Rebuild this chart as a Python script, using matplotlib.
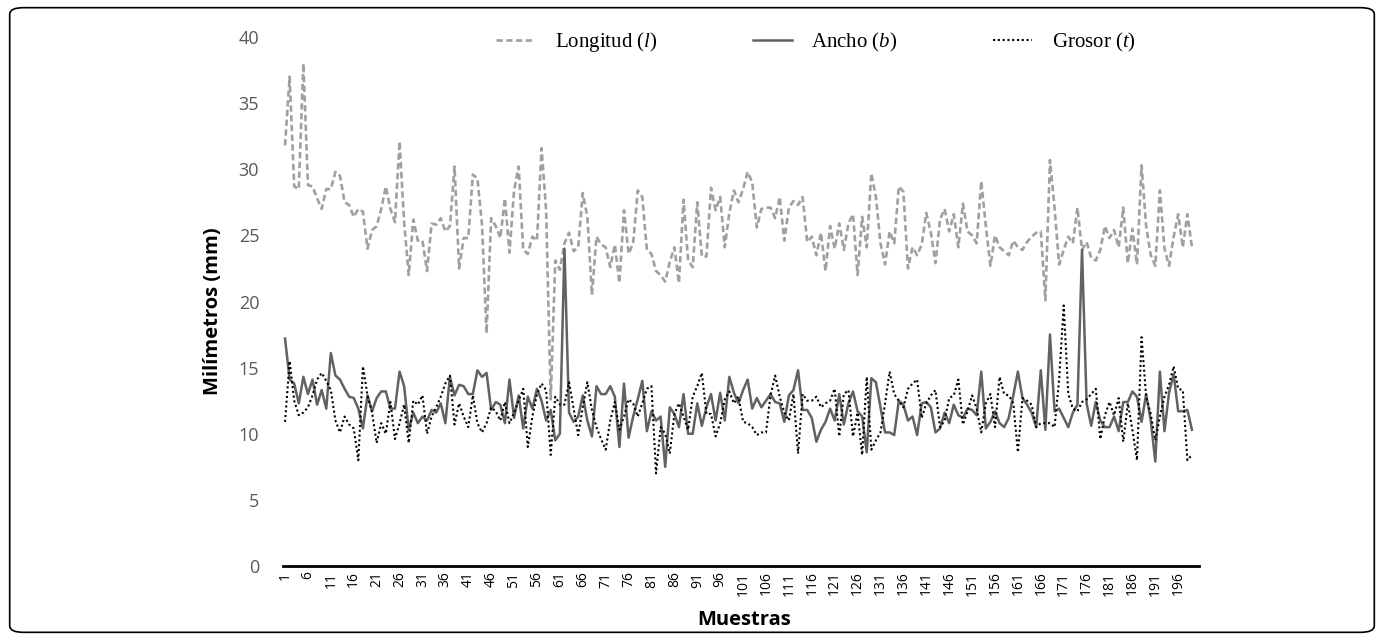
import numpy as np
import matplotlib.pyplot as plt
from matplotlib.patches import FancyBboxPatch

# valores (mm), muestras 1..199
longitud = [31.8, 37.0, 28.7, 28.5, 38.0, 28.8, 28.7, 27.8, 27.0, 28.5,
            28.5, 29.8, 29.5, 27.5, 27.3, 26.4, 27.0, 26.8, 24.0, 25.4,
            25.7, 27.0, 28.7, 27.0, 26.0, 32.1, 26.0, 22.0, 26.2, 24.6,
            24.6, 22.3, 25.9, 25.8, 26.3, 25.3, 25.7, 30.2, 22.5, 24.8,
            24.8, 29.6, 29.3, 25.8, 17.6, 26.3, 25.7, 24.8, 27.8, 23.7,
            28.4, 30.2, 23.9, 23.6, 24.9, 24.6, 31.6, 26.9, 12.6, 23.1,
            22.4, 24.4, 25.2, 23.8, 24.1, 28.2, 26.4, 20.5, 24.9, 24.3,
            24.1, 22.6, 24.3, 21.4, 26.9, 23.6, 24.4, 28.4, 27.9, 23.9,
            23.6, 22.3, 22.0, 21.5, 23.0, 24.1, 21.4, 27.7, 23.1, 22.6,
            27.5, 23.4, 23.4, 28.6, 26.9, 27.9, 24.1, 26.7, 28.4, 27.5,
            28.5, 29.8, 29.0, 25.6, 27.0, 27.1, 27.1, 26.3, 27.9, 24.6,
            27.1, 27.6, 27.3, 27.9, 24.5, 24.9, 23.5, 25.2, 22.3, 25.7,
            24.0, 25.9, 23.9, 25.9, 26.6, 22.0, 26.4, 24.1, 29.7, 27.9,
            24.4, 22.8, 25.3, 24.4, 28.7, 28.3, 22.5, 24.1, 23.5, 24.3,
            26.7, 25.2, 22.9, 26.2, 27.0, 25.3, 26.6, 24.1, 27.4, 25.3,
            25.0, 24.4, 29.1, 25.7, 22.7, 25.0, 24.1, 23.8, 23.5, 24.6,
            24.1, 23.9, 24.5, 24.9, 25.2, 25.3, 20.1, 30.7, 27.1, 22.8,
            23.9, 24.9, 24.4, 27.1, 23.9, 24.5, 23.3, 23.1, 23.9, 25.7,
            24.8, 25.4, 24.1, 27.1, 22.9, 25.5, 22.8, 30.3, 25.7, 23.5,
            22.7, 28.4, 24.0, 22.7, 24.9, 26.6, 24.1, 26.6, 24.1]

ancho = [17.2, 14.1, 13.8, 12.3, 14.3, 13.0, 14.1, 12.2, 13.3, 11.9,
         16.1, 14.4, 14.1, 13.4, 12.8, 12.7, 11.9, 10.4, 12.9, 11.7,
         12.7, 13.2, 13.2, 11.9, 11.9, 14.7, 13.6, 10.3, 11.6, 10.8,
         11.3, 11.0, 11.8, 11.6, 12.3, 10.8, 14.3, 12.9, 13.7, 13.6,
         13.0, 13.0, 14.8, 14.3, 14.6, 11.8, 12.4, 12.2, 10.8, 14.1,
         11.2, 12.9, 10.4, 12.8, 11.9, 13.4, 12.5, 11.0, 11.8, 9.5,
         10.0, 24.0, 11.6, 10.9, 11.3, 12.9, 11.0, 9.8, 13.6, 13.0,
         13.0, 13.6, 12.8, 9.0, 13.8, 9.7, 11.3, 12.6, 14.0, 10.2,
         11.7, 11.0, 11.3, 7.5, 12.0, 11.5, 10.5, 13.0, 10.0, 10.0,
         12.3, 10.6, 12.0, 13.0, 11.0, 13.1, 11.0, 14.3, 13.1, 12.3,
         13.3, 14.1, 11.9, 12.7, 12.0, 12.5, 13.0, 12.4, 12.3, 10.9,
         12.9, 13.3, 14.8, 11.8, 11.8, 11.2, 9.4, 10.3, 10.9, 11.9,
         11.0, 13.0, 10.7, 12.3, 13.2, 11.7, 11.3, 8.6, 14.2, 13.9,
         12.0, 10.1, 10.1, 9.9, 12.5, 12.2, 11.0, 11.3, 9.9, 12.3,
         12.4, 12.0, 10.1, 10.4, 11.6, 10.8, 12.2, 11.4, 11.2, 11.9,
         11.8, 11.4, 14.7, 10.4, 10.9, 11.7, 10.8, 10.5, 11.2, 12.9,
         14.7, 12.7, 12.2, 11.6, 10.5, 14.8, 10.3, 17.5, 11.7, 11.9,
         11.2, 10.5, 11.6, 12.2, 23.9, 12.3, 10.6, 12.4, 11.0, 10.5,
         10.5, 11.3, 10.2, 12.4, 12.4, 13.2, 12.8, 10.9, 13.0, 11.0,
         7.9, 14.7, 10.2, 13.1, 14.5, 11.7, 11.7, 11.8, 10.3]

grosor = [10.9, 15.5, 12.5, 11.4, 11.6, 12.0, 12.9, 14.1, 14.6, 14.0,
          13.3, 11.0, 10.1, 11.3, 10.7, 10.4, 8.0, 15.1, 12.9, 11.6,
          9.3, 10.8, 10.0, 12.4, 9.6, 10.8, 12.2, 9.3, 12.5, 12.2,
          12.9, 10.0, 11.3, 12.0, 12.8, 13.8, 14.4, 10.7, 12.3, 11.3,
          10.5, 12.9, 10.8, 10.1, 10.8, 12.0, 11.7, 11.0, 12.4, 10.8,
          11.6, 12.5, 13.4, 9.0, 11.3, 13.0, 13.8, 13.3, 8.4, 12.8,
          12.2, 12.2, 13.9, 11.9, 9.9, 12.0, 13.9, 11.8, 10.5, 9.6,
          8.8, 11.0, 12.4, 10.3, 11.3, 12.6, 12.3, 11.3, 12.3, 13.4,
          13.6, 7.0, 10.5, 10.0, 8.5, 11.5, 12.3, 11.3, 10.3, 12.8,
          13.6, 14.6, 11.5, 11.5, 9.8, 10.8, 12.6, 13.2, 12.3, 12.8,
          10.9, 10.8, 10.5, 9.9, 10.1, 10.1, 12.9, 14.4, 12.8, 11.6,
          11.0, 13.0, 8.5, 13.0, 12.5, 12.5, 12.8, 12.0, 12.3, 12.5,
          13.4, 9.8, 13.0, 13.3, 9.8, 11.6, 8.4, 14.3, 8.8, 9.5,
          10.1, 12.3, 14.7, 13.0, 12.5, 12.0, 13.4, 13.8, 14.1, 11.2,
          12.3, 12.9, 13.3, 10.5, 11.0, 12.7, 12.9, 14.1, 10.7, 11.7,
          12.9, 11.9, 10.1, 12.3, 13.0, 10.5, 14.3, 13.0, 12.9, 12.3,
          8.6, 12.7, 12.5, 12.2, 10.5, 10.8, 10.8, 10.8, 10.5, 14.1,
          19.7, 13.0, 11.9, 11.7, 12.4, 12.6, 13.0, 13.4, 9.6, 11.4,
          12.4, 11.4, 12.7, 9.4, 12.3, 10.3, 8.0, 17.3, 12.8, 11.5,
          9.5, 11.3, 12.8, 13.7, 15.1, 13.4, 13.3, 8.0, 8.4]

muestras = np.arange(1, len(longitud) + 1)
tick_muestras = np.arange(1, 200, 5)

plt.rcParams['mathtext.fontset'] = 'custom'
plt.rcParams['mathtext.rm'] = 'Liberation Serif'
plt.rcParams['mathtext.it'] = 'Liberation Serif:italic'

fig = plt.figure(figsize=(13.84, 6.4), dpi=100)
ax = fig.add_axes([0.2043, 0.1156, 0.6619, 0.8266])

ax.plot(muestras, longitud, color='#a0a0a0', lw=1.9, ls=(0, (2.4, 1.3)),
        label='Longitud ($\\mathit{l}$)')
ax.plot(muestras, ancho, color='#626262', lw=1.8, label='Ancho ($\\mathit{b}$)')
ax.plot(muestras, grosor, color='black', lw=1.5, ls=(0, (1, 1.3)),
        label='Grosor ($\\mathit{t}$)')

ax.set_xlim(0.5, 200.5)
ax.set_ylim(0, 40)
ax.set_yticks(np.arange(0, 41, 5))
ax.set_xticks(tick_muestras)
ax.set_xticklabels([str(t) for t in tick_muestras], rotation=90,
                   fontsize=10, family='Open Sans')
ax.tick_params(axis='x', length=0, pad=4)
ax.tick_params(axis='y', length=0, pad=17, labelcolor='#595959', labelsize=13)
for lab in ax.get_yticklabels():
    lab.set_family('Open Sans')

for s in ['top', 'right', 'left']:
    ax.spines[s].set_visible(False)
ax.spines['bottom'].set_linewidth(2)
ax.spines['bottom'].set_color('black')

fig.text(0.154, 0.514, 'Milímetros (mm)', rotation=90, ha='center', va='center',
         fontsize=14.5, fontweight='bold', family='Open Sans')
fig.text(0.538, 0.031, 'Muestras', ha='center', va='center',
         fontsize=14.5, fontweight='bold', family='Open Sans')

fig.legend(loc='center', bbox_to_anchor=(0.5896, 0.934), ncol=3, frameon=False,
           handlelength=1.85, handletextpad=0.95, columnspacing=4.6,
           prop={'family': 'Liberation Serif', 'size': 15})

frame = FancyBboxPatch((0.007, 0.012), 0.986, 0.976,
                       boxstyle='round,pad=0,rounding_size=0.01',
                       transform=fig.transFigure, fill=False, ec='black', lw=1.2)
fig.patches.append(frame)

fig.savefig('out.png', dpi=100)
